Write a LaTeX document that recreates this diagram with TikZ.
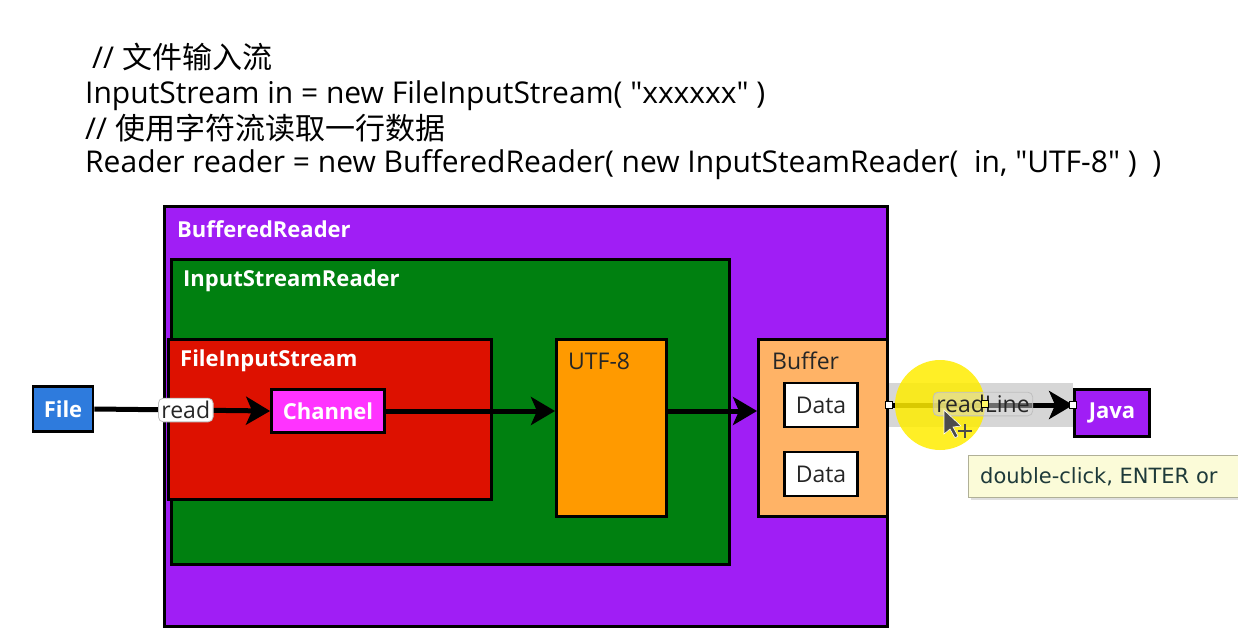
\documentclass[tikz,border=0pt]{standalone}
\usepackage{fontspec}
\setmainfont{Open Sans}[Ligatures=TeXOff]
\newfontfamily\cjk{Noto Sans CJK SC}
\newfontfamily\tipfont{DejaVu Sans}
\usetikzlibrary{arrows.meta,shadows}
\definecolor{cpurple}{HTML}{A01EF5}
\definecolor{cgreen}{HTML}{008010}
\definecolor{cred}{HTML}{DD1100}
\definecolor{cmag}{HTML}{FF33FF}
\definecolor{corange}{HTML}{FF9A00}
\definecolor{clorange}{HTML}{FFB366}
\definecolor{cblue}{HTML}{2E7BDD}
\definecolor{ctip}{HTML}{FBFBD8}
\definecolor{ctiptext}{HTML}{1E3A3A}
\newcommand{\qq}{\char"22\relax}
\begin{document}
\begin{tikzpicture}[x=1pt,y=-1pt,
  code/.style={anchor=west,inner sep=0,font=\fontsize{30}{34}\selectfont},
  box/.style={draw=black,line width=2.8pt,inner sep=0},
  nwbox/.style={box,anchor=north west},
  wtitle/.style={anchor=west,inner sep=0,text=white,font=\bfseries\fontsize{22}{26}\selectfont},
  dtitle/.style={anchor=west,inner sep=0,text=black!85,font=\fontsize{23}{27}\selectfont},
  conn/.style={draw=black,line width=5pt,-{Stealth[length=24pt,width=28pt,inset=6pt]}},
  lbl/.style={draw=gray!50,line width=0.8pt,rounded corners=5pt,inner sep=3pt,font=\fontsize{23}{27}\selectfont},
  handle/.style={draw=black,fill=white,line width=0.8pt,minimum size=7pt,inner sep=0}
]
\useasboundingbox (0,0) rectangle (1238,644);
\fill[white] (0,0) rectangle (1238,644);

% code lines
\node[code] (l1) at (92,57) {// {\cjk 文件输入流}};
\node[code] (l2) at (85,96) {InputStream in = new FileInputStream( \qq xxxxxx\qq\ )};
\node[code] (l3) at (85,128) {// {\cjk 使用字符流读取一行数据}};
\node[code] (l4) at (85,165) {Reader reader = new BufferedReader( new InputSteamReader(\ \ in, \qq UTF-8\qq\ )\ \ )};

% containers
\node[nwbox,fill=cpurple,minimum width=723pt,minimum height=420pt] (br) at (163,205) {};
\node[wtitle] (brt) at ([xshift=14pt,yshift=-24pt]br.north west) {BufferedReader};
\node[nwbox,fill=cgreen,minimum width=558pt,minimum height=305pt] (isr) at (170,258) {};
\node[wtitle] (isrt) at ([xshift=13pt,yshift=-23pt]isr.north west) {InputStreamReader};
\node[nwbox,fill=cred,minimum width=323pt,minimum height=160pt] (fis) at (167,338) {};
\node[wtitle] (fist) at ([xshift=13pt,yshift=-23pt]fis.north west) {FileInputStream};
\node[nwbox,fill=corange,minimum width=110pt,minimum height=177pt] (utf) at (555,338) {};
\node[dtitle] (utft) at ([xshift=13pt,yshift=-23pt]utf.north west) {UTF-8};
\node[nwbox,fill=clorange,minimum width=129pt,minimum height=177pt] (buf) at (757,338) {};
\node[dtitle] (buft) at ([xshift=15pt,yshift=-23pt]buf.north west) {Buffer};

% small boxes
\node[box,fill=cmag,minimum width=113pt,minimum height=43pt,text=white,font=\bfseries\fontsize{22}{26}\selectfont] (chan) at (328,411) {Channel};
\node[box,fill=white,minimum width=73pt,minimum height=44pt,text=black!85,font=\fontsize{23}{27}\selectfont] (d1) at (821,405) {Data};
\node[box,fill=white,minimum width=73pt,minimum height=44pt,text=black!85,font=\fontsize{23}{27}\selectfont] (d2) at (821,474) {Data};
\node[box,fill=cblue,minimum width=60pt,minimum height=45pt,text=white,font=\bfseries\fontsize{22}{26}\selectfont] (file) at (63,409) {File};
\node[box,fill=cpurple,minimum width=75pt,minimum height=47pt,text=white,font=\bfseries\fontsize{22}{26}\selectfont] (java) at (1112,413) {Java};

% connectors
\draw[conn] (file.east) -- (chan.west) node[lbl,pos=0.52,fill=white,text=black!85] (rd) {read};
\draw[conn] (chan.east) -- (chan.east -| utf.west);
\draw[conn] (utf.east |- chan.east) -- (buf.west |- chan.east);

% selection band, highlight
\fill[gray!45,opacity=0.7] (buf.east |- 0,383) rectangle (java.west |- 0,427);
\draw[conn] (buf.east |- d1.east) -- (java.west |- d1.east);
\fill[yellow!95!orange,opacity=0.85] (940,405) circle (45pt);
\node[lbl,fill=gray!30,fill opacity=0.5,text opacity=1,text=black!85] (rl) at (983,404) {readLine};
\node[handle] (h1) at (buf.east |- d1.east) {};
\node[handle,fill=yellow!60] (h2) at (985,404) {};
\node[handle] (h3) at (java.west |- d1.east) {};

% cursor
\draw[fill=black!70,draw=white,line width=0.6pt] (944,410) -- (944,434) -- (950,429) -- (955,438) -- (958,436) -- (953,427) -- (961,426) -- cycle;
\draw[black!70,line width=1.6pt] (958,431) -- (972,431) (965,424) -- (965,438);

% tooltip
\node[anchor=north west,fill=ctip,draw=ctip!70!black,line width=0.5pt,drop shadow={opacity=0.25},minimum width=280pt,minimum height=42pt,inner sep=0] (tip) at (968,455) {};
\node[anchor=west,inner sep=0,text=ctiptext,font=\tipfont\fontsize{21}{24}\selectfont] (tipt) at ([xshift=12pt]tip.west) {double-click, ENTER or};
\end{tikzpicture}
\end{document}
